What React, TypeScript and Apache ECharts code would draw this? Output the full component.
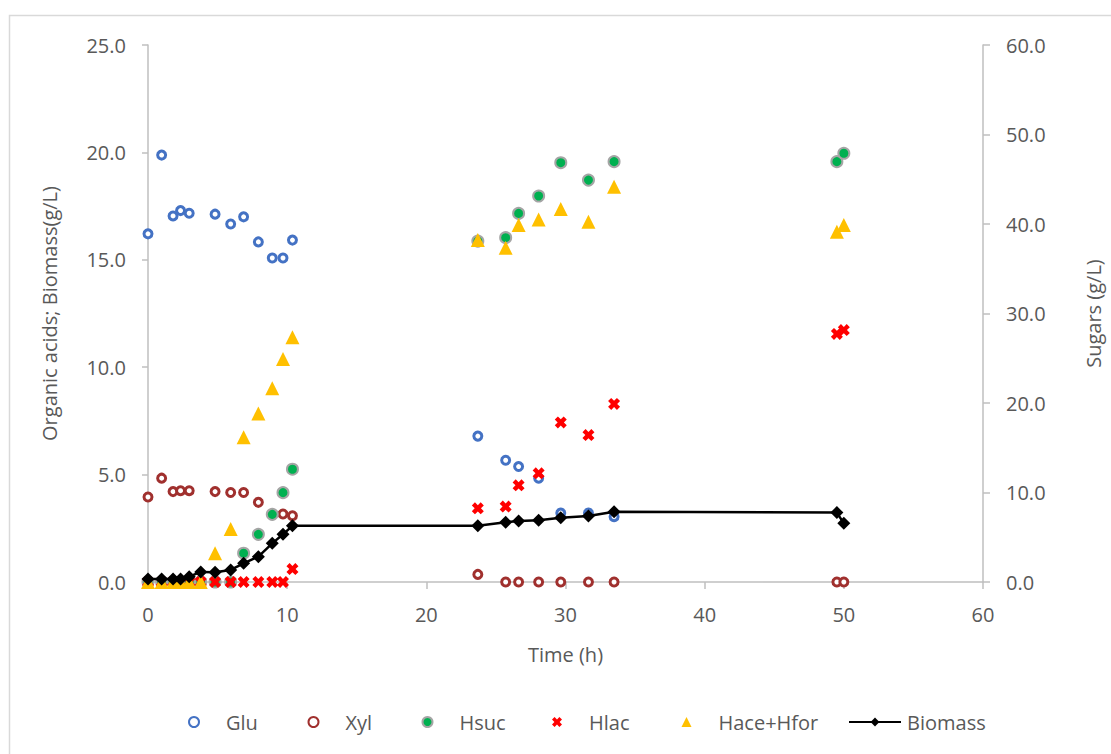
import React, { useEffect, useRef } from "react";
import * as echarts from "echarts";

const timeH = [0, 0.98, 1.8, 2.34, 2.96, 3.79, 4.82, 5.94, 6.87, 7.93, 8.93, 9.7, 10.38, 23.7, 25.7, 26.63, 28.07, 29.66, 31.65, 33.49, 49.5, 50.0];
const glu = [38.9, 47.7, 40.9, 41.5, 41.2, null, 41.1, 40.0, 40.8, 38.0, 36.2, 36.2, 38.2, 16.3, 13.6, 12.9, 11.6, 7.7, 7.7, 7.3, null, null];
const xyl = [9.5, 11.6, 10.1, 10.2, 10.2, null, 10.1, 10.0, 10.0, 8.9, null, 7.6, 7.4, 0.85, 0, 0, 0, 0, 0, 0, 0, 0];
const hsuc = [0, 0, 0, 0, 0, 0, 0, 0, 1.34, 2.22, 3.15, 4.16, 5.25, 15.87, 16.03, 17.16, 17.97, 19.52, 18.71, 19.57, 19.57, 19.96];
const hlac = [0, 0, 0, 0, 0, 0, 0, 0, 0, 0, 0, 0, 0.6, 3.43, 3.51, 4.5, 5.06, 7.43, 6.84, 8.29, 11.55, 11.73];
const haceHfor = [0, 0, 0, 0, 0, 0, 1.34, 2.47, 6.74, 7.85, 9.02, 10.38, 11.4, 15.92, 15.56, 16.62, 16.88, 17.36, 16.77, 18.4, 16.31, 16.62];
const biomass = [0.14, 0.14, 0.14, 0.14, 0.25, 0.47, 0.45, 0.56, 0.87, 1.18, 1.8, 2.22, 2.62, 2.62, 2.78, 2.84, 2.87, 2.99, 3.07, 3.27, 3.23, 2.73];

const seriesNames = ["Glu", "Xyl", "Hsuc", "Hlac", "Hace+Hfor", "Biomass"];
const xTicks = { min: 0, max: 60, interval: 10 };
const leftTicks = { min: 0, max: 25, interval: 5 };
const rightTicks = { min: 0, max: 60, interval: 10 };

const FONT = "Open Sans";
const TXT = "#595959";
const AX = "#BFBFBF";
const X_PATH = "path://M0,2.6 L2.6,0 L5,2.4 L7.4,0 L10,2.6 L7.6,5 L10,7.4 L7.4,10 L5,7.6 L2.6,10 L0,7.4 L2.4,5 Z";

function zip(vals: (number | null)[]) {
  const out: number[][] = [];
  timeH.forEach((t, i) => {
    const v = vals[i];
    if (v !== null && v !== undefined) out.push([t, v]);
  });
  return out;
}

export default function App() {
  const ref = useRef<HTMLDivElement>(null);
  useEffect(() => {
    if (!ref.current) return;
    const chart = echarts.init(ref.current, null, { renderer: "svg" });
    const legendCentres = [188, 307.5, 421.5, 552, 681.5];
    const legends: any[] = seriesNames.slice(0, 5).map((n, i) => ({
      data: [n],
      left: legendCentres[i] - 5,
      top: 707,
      itemWidth: 10,
      itemHeight: 10,
      selectedMode: false,
      textStyle: { fontFamily: FONT, fontSize: 20, color: TXT, padding: [0, 0, 0, 22] },
    }));
    legends.push({
      data: ["Biomass"],
      left: 843,
      top: 707,
      itemWidth: 52,
      itemHeight: 11,
      selectedMode: false,
      textStyle: { fontFamily: FONT, fontSize: 20, color: TXT, padding: [0, 0, 0, 1] },
    });
    const axisLabel = { fontFamily: FONT, fontSize: 20, color: TXT };
    chart.setOption({
      animation: false,
      backgroundColor: "#fff",
      textStyle: { fontFamily: FONT },
      graphic: [
        {
          type: "rect",
          shape: { x: 9.5, y: 15.5, width: 1200, height: 800 },
          style: { fill: "none", stroke: "#D9D9D9", lineWidth: 1.5 },
          silent: true,
        },
      ],
      grid: { left: 148, right: 123, top: 45, bottom: 172 },
      legend: legends,
      xAxis: {
        type: "value",
        ...xTicks,
        name: "Time (h)",
        nameLocation: "middle",
        nameGap: 62,
        nameTextStyle: { fontFamily: FONT, fontSize: 20, color: TXT },
        axisLine: { show: true, lineStyle: { color: AX, width: 1.5 } },
        axisTick: { show: true, length: 7, lineStyle: { color: AX, width: 1.5 } },
        axisLabel: { ...axisLabel, margin: 22 },
        splitLine: { show: false },
      },
      yAxis: [
        {
          type: "value",
          ...leftTicks,
          position: "left",
          name: "Organic acids; Biomass(g/L)",
          nameLocation: "middle",
          nameRotate: 90,
          nameGap: 89,
          nameTextStyle: { fontFamily: FONT, fontSize: 20, color: TXT },
          axisLine: { show: true, onZero: false, lineStyle: { color: AX, width: 1.5 } },
          axisTick: { show: true, length: 6, lineStyle: { color: AX, width: 1.5 } },
          axisLabel: { ...axisLabel, margin: 22, formatter: (v: number) => v.toFixed(1) },
          splitLine: { show: false },
        },
        {
          type: "value",
          ...rightTicks,
          position: "right",
          name: "Sugars (g/L)",
          nameLocation: "middle",
          nameRotate: 90,
          nameGap: 100,
          nameTextStyle: { fontFamily: FONT, fontSize: 20, color: TXT },
          axisLine: { show: true, onZero: false, lineStyle: { color: AX, width: 1.5 } },
          axisTick: { show: true, length: 7, lineStyle: { color: AX, width: 1.5 } },
          axisLabel: { ...axisLabel, margin: 23, formatter: (v: number) => v.toFixed(1) },
          splitLine: { show: false },
        },
      ],
      series: [
        {
          name: "Glu",
          type: "scatter",
          yAxisIndex: 1,
          symbol: "circle",
          symbolSize: 8,
          itemStyle: { color: "#fff", borderColor: "#4472C4", borderWidth: 3, opacity: 1 },
          data: zip(glu),
        },
        {
          name: "Xyl",
          type: "scatter",
          yAxisIndex: 1,
          symbol: "circle",
          symbolSize: 8,
          itemStyle: { color: "#fff", borderColor: "#A0302E", borderWidth: 3, opacity: 1 },
          data: zip(xyl),
        },
        {
          name: "Hsuc",
          type: "scatter",
          yAxisIndex: 0,
          symbol: "circle",
          symbolSize: 11,
          itemStyle: { color: "#00B050", borderColor: "#A5A5A5", borderWidth: 2, opacity: 1 },
          data: zip(hsuc),
        },
        {
          name: "Hlac",
          type: "scatter",
          yAxisIndex: 0,
          symbol: X_PATH,
          symbolSize: 12,
          itemStyle: { color: "#FF0000", opacity: 1 },
          data: zip(hlac),
        },
        {
          name: "Hace+Hfor",
          type: "scatter",
          yAxisIndex: 0,
          symbol: "triangle",
          symbolSize: 14,
          itemStyle: { color: "#FFC000", opacity: 1 },
          data: zip(haceHfor),
        },
        {
          name: "Biomass",
          type: "line",
          yAxisIndex: 0,
          symbol: "diamond",
          symbolSize: 13,
          showAllSymbol: true,
          itemStyle: { color: "#000", opacity: 1 },
          lineStyle: { color: "#000", width: 2.5 },
          data: zip(biomass),
        },
      ],
    });
    return () => chart.dispose();
  }, []);
  return (
    <div
      ref={ref}
      style={{ position: "absolute", left: 0, top: 0, width: 1111, height: 754 }}
    />
  );
}
